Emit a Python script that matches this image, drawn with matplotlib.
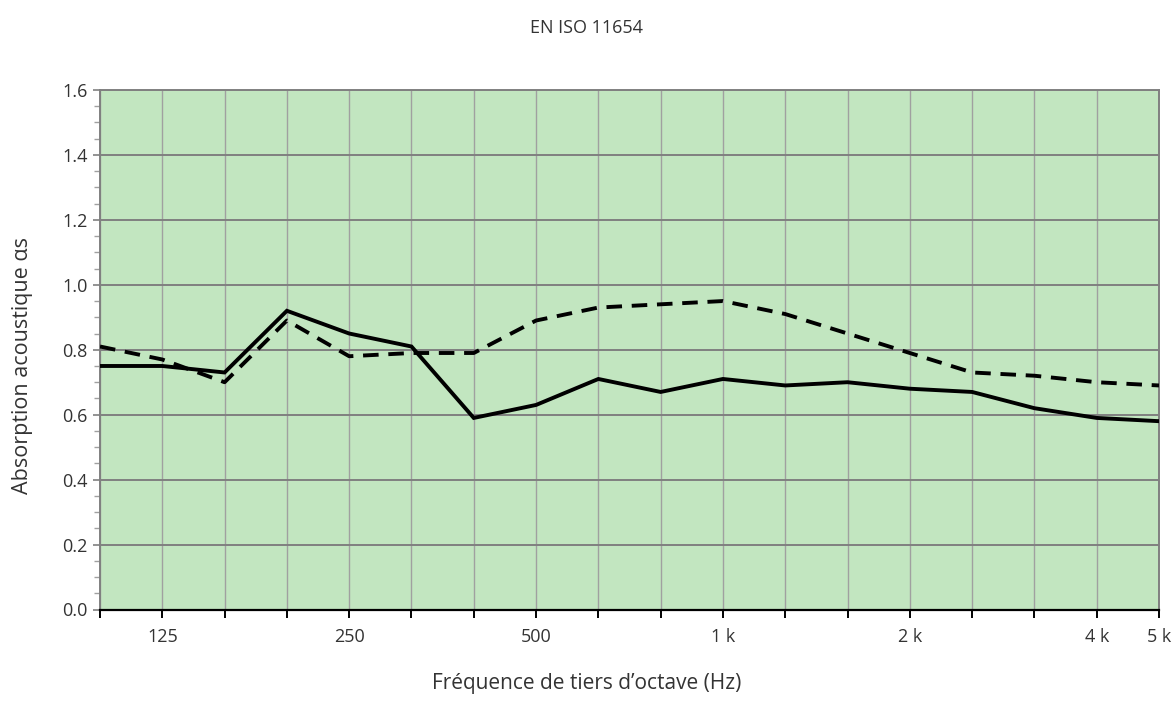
import matplotlib
matplotlib.use("Agg")
import matplotlib.pyplot as plt
from matplotlib.ticker import MultipleLocator

plt.rcParams['font.family'] = ['Open Sans', 'DejaVu Sans']

bands = ["100", "125", "160", "200", "250", "315", "400", "500", "630", "800",
         "1k", "1.25k", "1.6k", "2k", "2.5k", "3.15k", "4k", "5k"]
solid_values = [0.75, 0.75, 0.73, 0.92, 0.85, 0.81, 0.59, 0.63, 0.71, 0.67,
                0.71, 0.69, 0.70, 0.68, 0.67, 0.62, 0.59, 0.58]
dashed_values = [0.81, 0.77, 0.70, 0.89, 0.78, 0.79, 0.79, 0.89, 0.93, 0.94,
                 0.95, 0.91, 0.85, 0.79, 0.73, 0.72, 0.70, 0.69]
tick_labels = {"125": "125", "250": "250", "500": "500", "1k": "1 k",
               "2k": "2 k", "4k": "4 k", "5k": "5 k"}

title = "EN ISO 11654"
xlabel = "Fréquence de tiers d\u2019octave (Hz)"
ylabel = "Absorption acoustique \u03b1s"

fig = plt.figure(figsize=(11.74, 7.08), dpi=100)
ax = fig.add_axes([100/1174, (708-609.5)/708, (1159-100)/1174, (609.5-90)/708])
ax.set_facecolor("#c2e6c0")

x = list(range(len(bands)))
ax.plot(x, solid_values, color="black", lw=2.8, solid_joinstyle="miter", zorder=3)
ax.plot(x, dashed_values, color="black", lw=2.8, linestyle=(0, (4.0, 2.5)), zorder=3)

ax.set_xlim(0, len(bands) - 1)
ax.set_ylim(0, 1.6)

ax.set_xticks(x)
ax.set_xticklabels([tick_labels.get(b, "") for b in bands])
ax.yaxis.set_major_locator(MultipleLocator(0.2))
ax.yaxis.set_minor_locator(MultipleLocator(0.05))
ax.yaxis.set_major_formatter(plt.FuncFormatter(lambda v, p: f"{v:.1f}"))

ax.grid(axis="x", color="#a0a0a0", lw=1.0)
ax.grid(axis="y", which="major", color="#808080", lw=1.4)
ax.set_axisbelow(True)

for s in ["top", "right", "left"]:
    ax.spines[s].set_color("#808080")
    ax.spines[s].set_linewidth(1.4)
ax.spines["bottom"].set_color("black")
ax.spines["bottom"].set_linewidth(1.6)

ax.tick_params(axis="x", length=6, width=1.4, color="black", labelsize=13,
               pad=7, labelcolor="#333333")
ax.tick_params(axis="y", which="major", length=5, width=1.2, color="#808080",
               labelsize=13, labelcolor="#333333", pad=4)
ax.tick_params(axis="y", which="minor", length=4, width=1.0, color="#a0a0a0")

fig.text(587/1174, 1 - 28/708, title, ha="center", va="center", fontsize=13, color="#333333")
fig.text(587/1174, 1 - 683/708, xlabel, ha="center", va="center", fontsize=15, color="#333333")
fig.text(23/1174, 1 - 365/708, ylabel, ha="center", va="center", rotation=90,
         fontsize=15.5, color="#333333")

fig.savefig("out.png", dpi=100)
